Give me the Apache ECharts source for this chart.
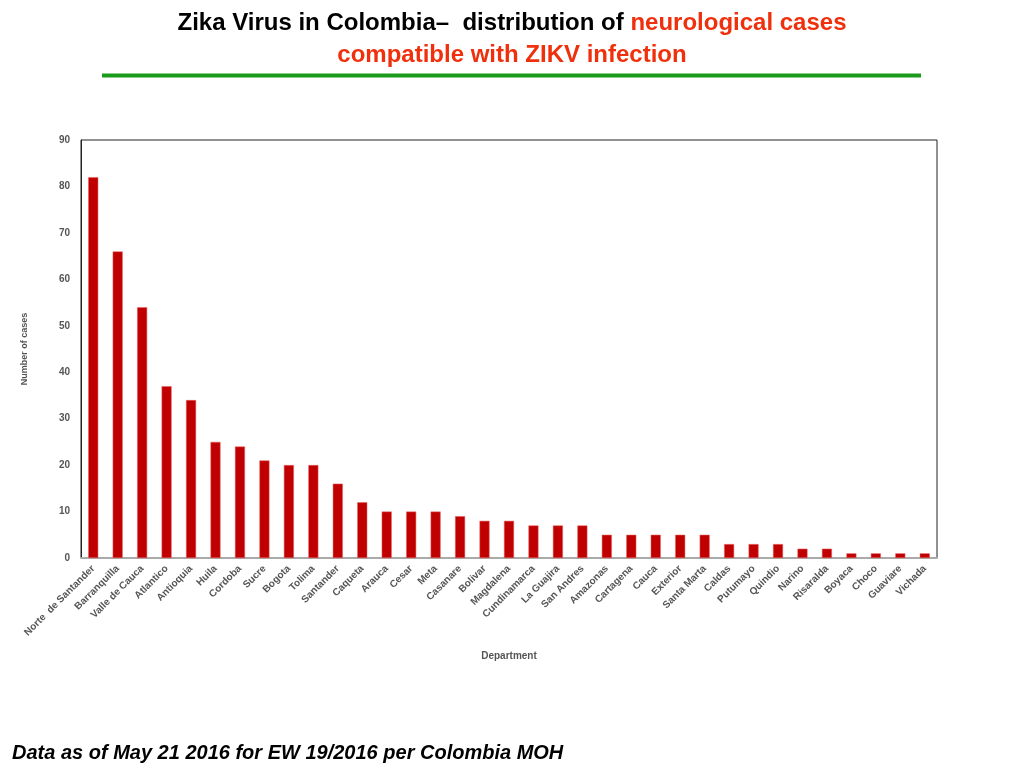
<!DOCTYPE html>
<html>
<head>
<meta charset="utf-8">
<script src="https://cdn.jsdelivr.net/npm/echarts@6/dist/echarts.min.js"></script>
<style>
html,body{margin:0;padding:0;background:#fff;}
#chart{width:1024px;height:768px;}
</style>
</head>
<body>
<div id="chart"></div>
<script>
var departments = ['Norte  de Santander','Barranquilla','Valle de Cauca','Atlantico','Antioquia','Huila','Cordoba','Sucre','Bogota','Tolima','Santander','Caqueta','Arauca','Cesar','Meta','Casanare','Bolivar','Magdalena','Cundinamarca','La Guajira','San Andres','Amazonas','Cartagena','Cauca','Exterior','Santa Marta','Caldas','Putumayo','Quindio','Narino','Risaralda','Boyaca','Choco','Guaviare','Vichada'];
var cases = [82,66,54,37,34,25,24,21,20,20,16,12,10,10,10,9,8,8,7,7,7,5,5,5,5,5,3,3,3,2,2,1,1,1,1];
var yTicks = [0,10,20,30,40,50,60,70,80,90];

var titleFont = 'Liberation Sans, Arial';
var chart = echarts.init(document.getElementById('chart'));
var option = {
    backgroundColor: '#fff',
    animation: false,
    title: [
        {
            text: '{b|Zika Virus in Colombia\u2013  distribution of }{r|neurological cases}',
            left: 'center',
            top: 6,
            textStyle: {
                rich: {
                    b: {color: '#000', fontSize: 24, fontWeight: 'bold', fontFamily: titleFont},
                    r: {color: '#f0300c', fontSize: 24, fontWeight: 'bold', fontFamily: titleFont}
                }
            }
        },
        {
            text: 'compatible with ZIKV infection',
            left: 'center',
            top: 38,
            textStyle: {color: '#f0300c', fontSize: 24, fontWeight: 'bold', fontFamily: titleFont}
        },
        {
            text: 'Data as of May 21 2016 for EW 19/2016 per Colombia MOH',
            left: 7,
            top: 738,
            textStyle: {color: '#000', fontSize: 20, fontWeight: 'bold', fontStyle: 'italic', fontFamily: titleFont}
        }
    ],
    graphic: [
        {
            type: 'line',
            shape: {x1: 102, y1: 75.5, x2: 921, y2: 75.5},
            style: {stroke: '#1a9a1a', lineWidth: 4}
        }
    ],
    grid: {
        left: 81, right: 87, top: 140, bottom: 210,
        show: true, borderColor: '#222', borderWidth: 1
    },
    xAxis: {
        type: 'category',
        data: departments,
        name: 'Department',
        nameLocation: 'middle',
        nameGap: 93,
        nameTextStyle: {color: '#555', fontSize: 10, fontWeight: 'bold', fontFamily: titleFont},
        axisLine: {lineStyle: {color: '#aaa', width: 2}},
        axisTick: {show: false},
        axisLabel: {
            rotate: 45, interval: 0, color: '#555', fontSize: 10, fontWeight: 'bold',
            fontFamily: titleFont, margin: 9
        }
    },
    yAxis: {
        type: 'value',
        min: 0, max: 90, interval: 10,
        name: 'Number of cases',
        nameLocation: 'middle',
        nameGap: 52,
        nameTextStyle: {color: '#555', fontSize: 9, fontWeight: 'bold', fontFamily: titleFont},
        axisLine: {show: true, lineStyle: {color: '#222'}},
        axisTick: {show: false},
        splitLine: {show: false},
        axisLabel: {
            color: '#555', fontSize: 10, fontWeight: 'bold', fontFamily: titleFont, margin: 11,
            formatter: function (v) { return yTicks.indexOf(v) >= 0 ? String(v) : ''; }
        }
    },
    series: [
        {
            name: 'Number of cases',
            type: 'bar',
            data: cases,
            barWidth: 10,
            itemStyle: {color: '#c00000', borderColor: '#e86060', borderWidth: 0.5}
        }
    ]
};
chart.setOption(option);
</script>
</body>
</html>
